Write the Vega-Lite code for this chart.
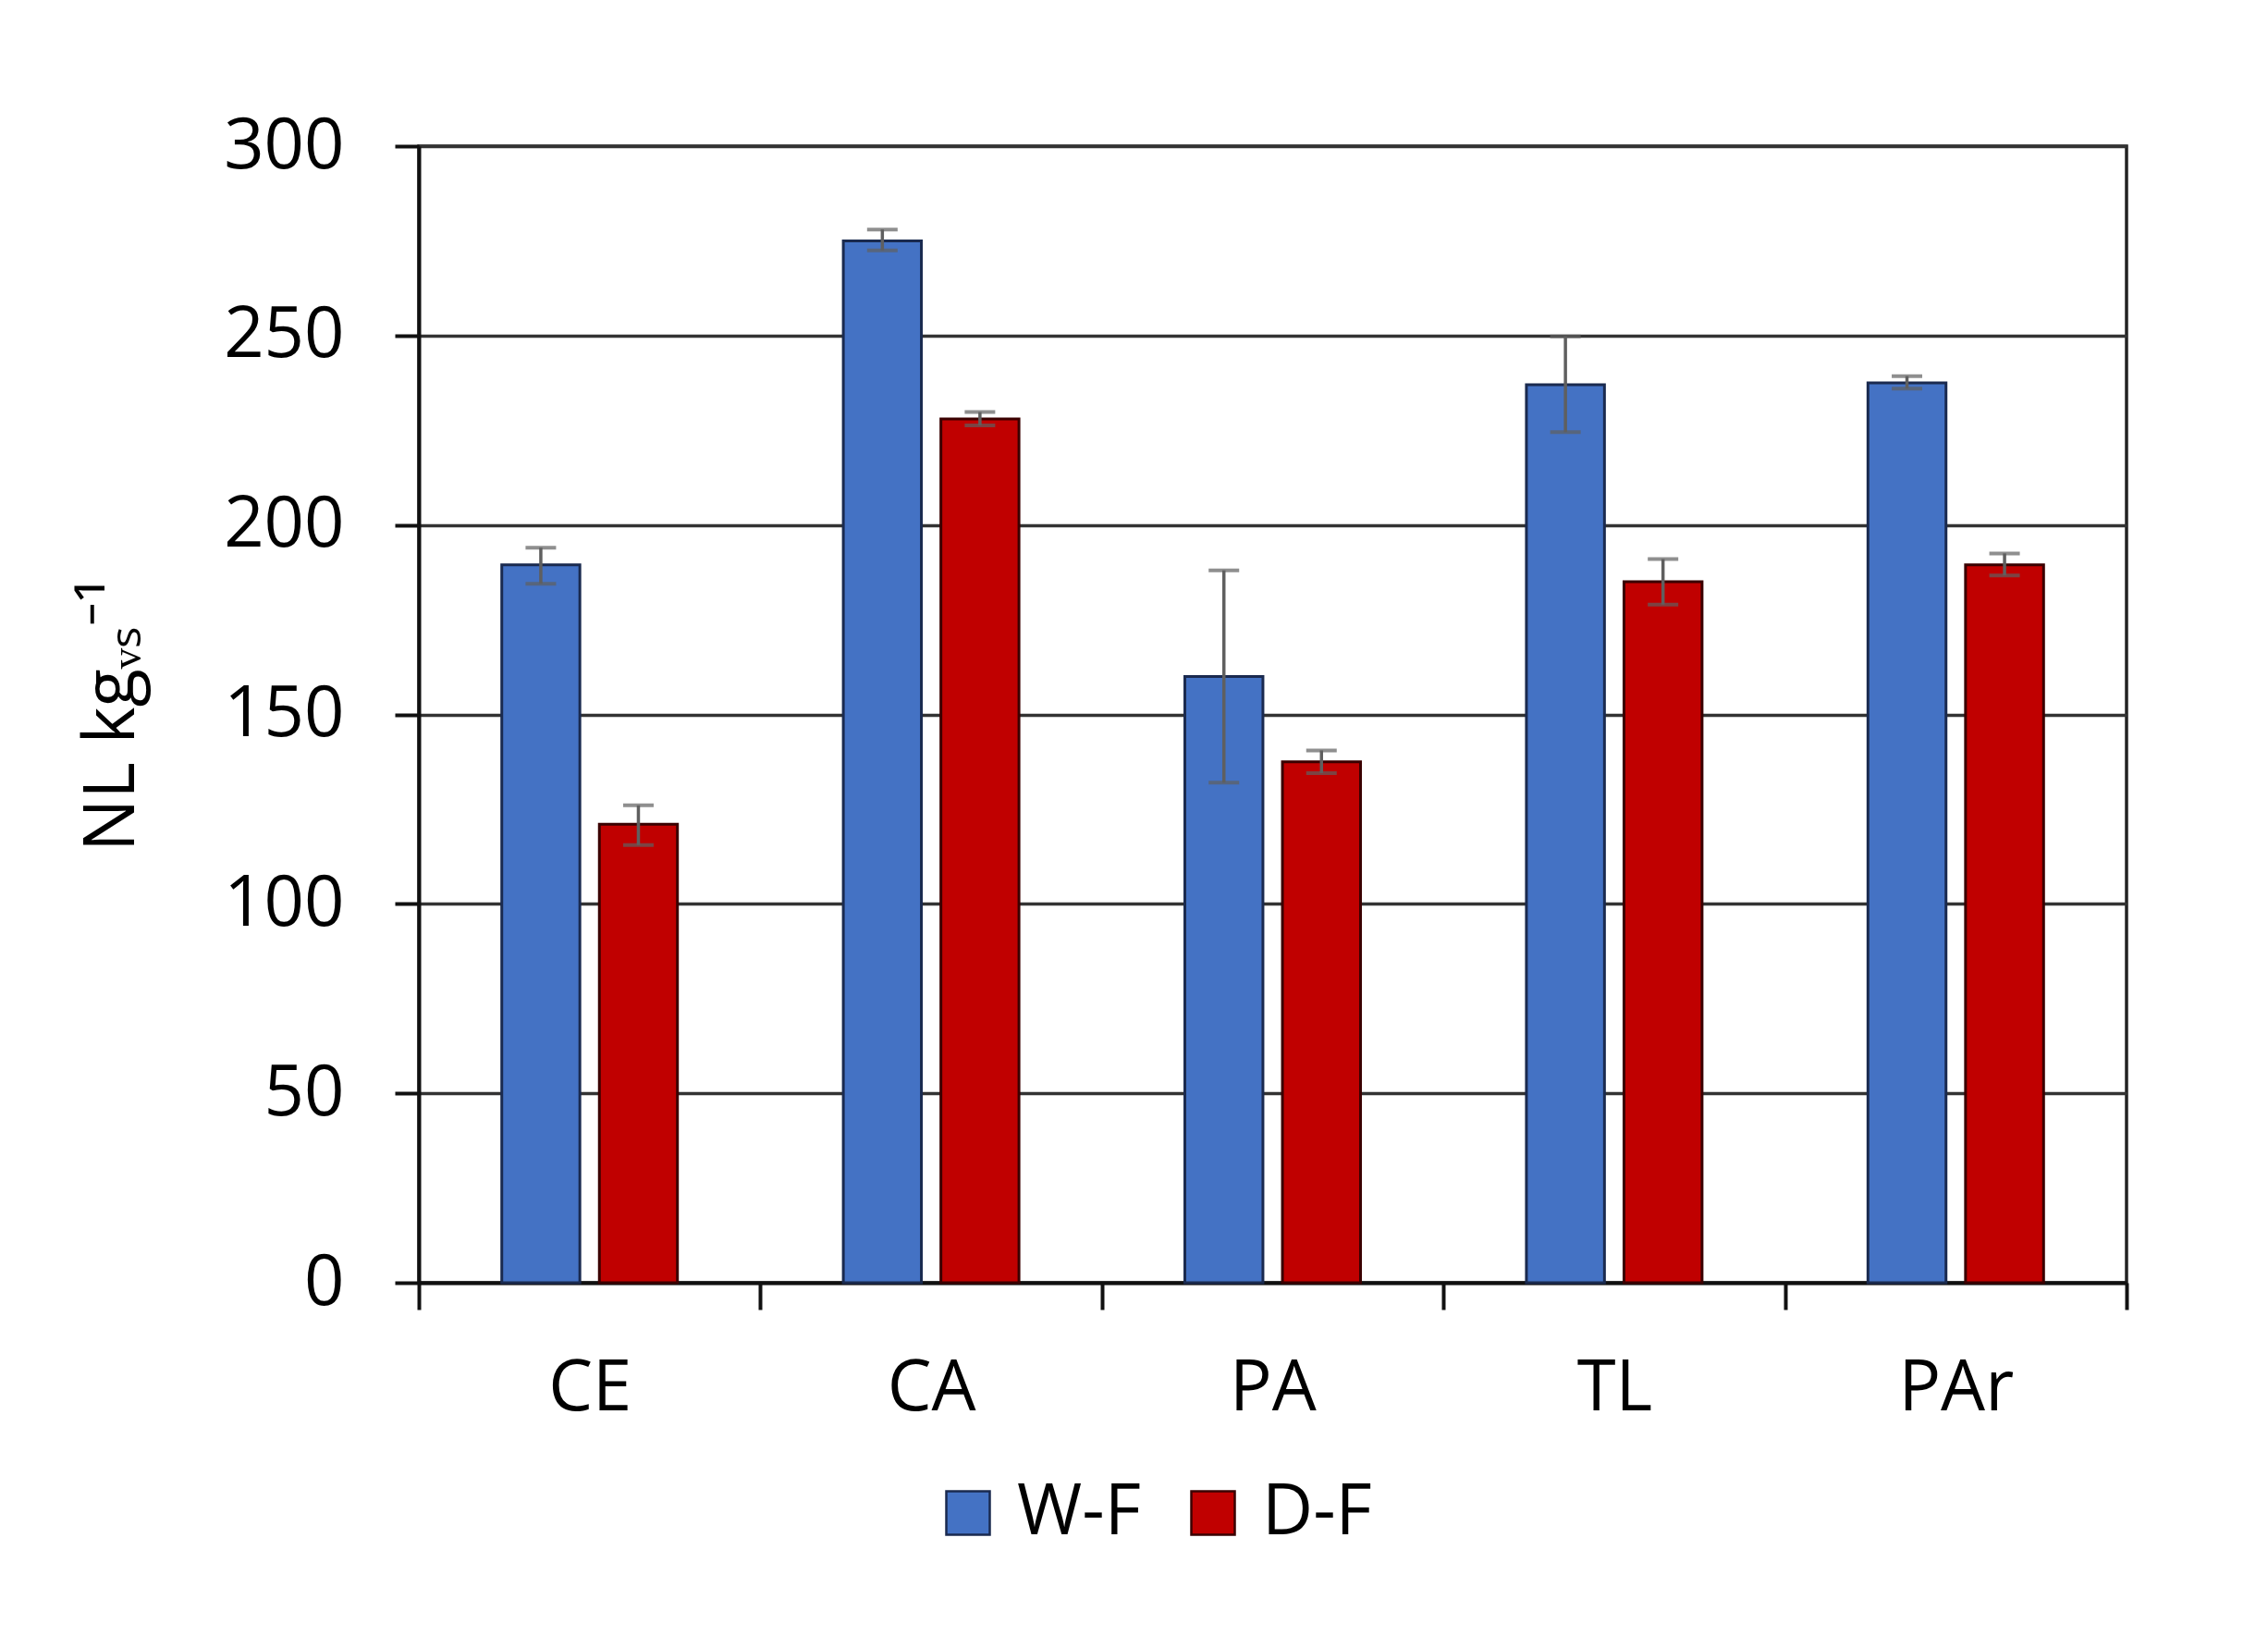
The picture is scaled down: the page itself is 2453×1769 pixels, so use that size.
{
  "$schema": "https://vega.github.io/schema/vega-lite/v6.json",
  "width": 1847,
  "height": 1229,
  "autosize": {"type": "none"},
  "padding": {"left": 453, "top": 158, "right": 153, "bottom": 382},
  "background": "white",
  "config": {
    "font": "Open Sans",
    "view": {"stroke": "#222222", "strokeWidth": 3.5}
  },
  "data": {
    "values": [
      {"cat": "CE", "series": "W-F", "value": 189.5, "lo": 184.5, "hi": 194},
      {"cat": "CE", "series": "D-F", "value": 121, "lo": 115.5, "hi": 126},
      {"cat": "CA", "series": "W-F", "value": 275, "lo": 272.5, "hi": 278},
      {"cat": "CA", "series": "D-F", "value": 228, "lo": 226.3, "hi": 229.8},
      {"cat": "PA", "series": "W-F", "value": 160, "lo": 132, "hi": 188},
      {"cat": "PA", "series": "D-F", "value": 137.5, "lo": 134.5, "hi": 140.5},
      {"cat": "TL", "series": "W-F", "value": 237, "lo": 224.5, "hi": 249.8},
      {"cat": "TL", "series": "D-F", "value": 185, "lo": 179, "hi": 191},
      {"cat": "PAr", "series": "W-F", "value": 237.5, "lo": 236, "hi": 239.3},
      {"cat": "PAr", "series": "D-F", "value": 189.5, "lo": 186.7, "hi": 192.5}
    ]
  },
  "encoding": {
    "x": {
      "field": "cat",
      "type": "nominal",
      "sort": ["CE", "CA", "PA", "TL", "PAr"],
      "scale": {"paddingInner": 0, "paddingOuter": 0},
      "axis": {
        "title": null,
        "labelAngle": 0,
        "tickBand": "extent",
        "tickSize": 29,
        "tickWidth": 4,
        "tickColor": "#111111",
        "domainColor": "#111111",
        "domainWidth": 4,
        "labelFontSize": 76,
        "labelColor": "black",
        "labelPadding": 48
      }
    },
    "xOffset": {
      "field": "series",
      "type": "nominal",
      "sort": ["W-F", "D-F"],
      "scale": {"paddingInner": 0.2, "paddingOuter": 0.85}
    }
  },
  "layer": [
    {
      "mark": {"type": "bar", "strokeWidth": 3},
      "encoding": {
        "y": {
          "field": "value",
          "type": "quantitative",
          "scale": {"domain": [0, 300], "nice": false},
          "axis": {
            "title": "NL kgᵥₛ⁻¹",
            "values": [0, 50, 100, 150, 200, 250, 300],
            "grid": true,
            "gridColor": "#333333",
            "gridWidth": 3.5,
            "domainColor": "#111111",
            "domainWidth": 4,
            "tickColor": "#111111",
            "tickWidth": 4,
            "tickSize": 26,
            "labelFontSize": 76,
            "labelColor": "black",
            "labelPadding": 55,
            "titleFontSize": 76,
            "titleFontWeight": "normal",
            "titleColor": "black",
            "titlePadding": 93
          }
        },
        "color": {
          "field": "series",
          "type": "nominal",
          "scale": {"domain": ["W-F", "D-F"], "range": ["#4472C4", "#C00000"]},
          "legend": {
            "orient": "none",
            "legendX": 556,
            "legendY": 1440,
            "direction": "horizontal",
            "title": null,
            "padding": 0,
            "symbolType": "square",
            "symbolSize": 2209,
            "symbolStrokeColor": "#111111",
            "symbolStrokeWidth": 2.5,
            "labelFontSize": 76,
            "labelColor": "black",
            "labelOffset": 15,
            "columnPadding": 40
          }
        },
        "stroke": {
          "field": "series",
          "type": "nominal",
          "scale": {"domain": ["W-F", "D-F"], "range": ["#1A2A4F", "#3A0000"]},
          "legend": null
        }
      }
    },
    {
      "mark": {"type": "rule", "color": "#5F5F5F", "strokeWidth": 3.5},
      "encoding": {
        "y": {"field": "lo", "type": "quantitative"},
        "y2": {"field": "hi"}
      }
    },
    {
      "mark": {"type": "tick", "color": "#5F5F5F", "thickness": 4, "size": 33},
      "encoding": {"y": {"field": "lo", "type": "quantitative"}}
    },
    {
      "mark": {"type": "tick", "color": "#5F5F5F", "thickness": 4, "size": 33},
      "encoding": {"y": {"field": "hi", "type": "quantitative"}}
    }
  ]
}
